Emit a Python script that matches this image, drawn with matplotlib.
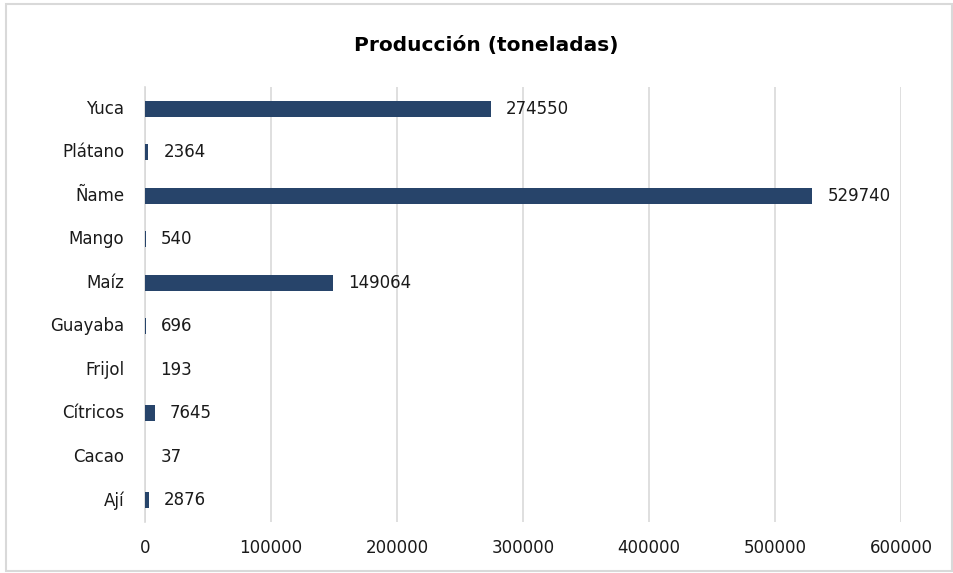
import matplotlib
matplotlib.use("Agg")
import matplotlib.pyplot as plt
from matplotlib.patches import Rectangle

# ── data (bottom to top, as drawn) ──
cultivos = ["Ají", "Cacao", "Cítricos", "Frijol", "Guayaba",
            "Maíz", "Mango", "Ñame", "Plátano", "Yuca"]
produccion = [2876, 37, 7645, 193, 696, 149064, 540, 529740, 2364, 274550]
x_ticks = [0, 100000, 200000, 300000, 400000, 500000, 600000]

BAR_COLOR = "#27446A"
GRID_COLOR = "#D9D9D9"
TEXT_COLOR = "#1a1a1a"
FONT = "DejaVu Sans"
FS = 12

fig = plt.figure(figsize=(9.54, 5.73), dpi=100)
# plot area: x 145..901 px, y 87..522 px
ax = fig.add_axes([145 / 954, 1 - 522 / 573, 756 / 954, 435 / 573])

ypos = list(range(len(cultivos)))
ax.barh(ypos, produccion, height=0.37, color=BAR_COLOR, zorder=3)

for y, v in zip(ypos, produccion):
    ax.annotate(str(v), (v, y), xytext=(11, 0), textcoords="offset points",
                ha="left", va="center", fontsize=FS, family=FONT,
                color=TEXT_COLOR)

ax.set_xlim(0, 600000)
ax.set_ylim(-0.5, len(cultivos) - 0.5)
ax.set_xticks(x_ticks)
ax.set_xticklabels([str(t) for t in x_ticks], fontsize=FS, family=FONT,
                   color=TEXT_COLOR)
ax.set_yticks(ypos)
ax.set_yticklabels(cultivos, fontsize=FS, family=FONT, color=TEXT_COLOR)
for lbl in ax.get_yticklabels():
    lbl.set_va("center")
ax.tick_params(axis="y", length=0, pad=15)
ax.tick_params(axis="x", length=0, pad=12)

ax.grid(axis="x", color=GRID_COLOR, lw=1.2, zorder=0)
for s in ["top", "right", "bottom"]:
    ax.spines[s].set_visible(False)
ax.spines["left"].set_color(GRID_COLOR)
ax.spines["left"].set_linewidth(1.2)

fig.text(486 / 954, 1 - 46 / 573, "Producción (toneladas)", ha="center",
         va="center", fontsize=14.5, fontweight="bold", family=FONT)

# chart border
fig.patches.append(Rectangle((6 / 954, 2 / 573), 946 / 954, 567 / 573,
                             transform=fig.transFigure, fill=False,
                             edgecolor="#D9D9D9", lw=1.5))

fig.savefig("out.png", dpi=100)
